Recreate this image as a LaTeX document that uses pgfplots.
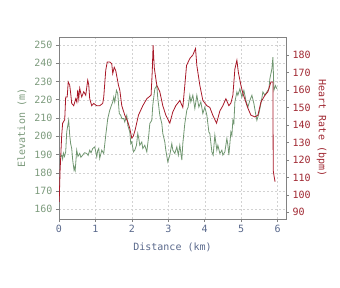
\documentclass[border=0pt]{standalone}
\usepackage{fontspec}
\setmonofont{DejaVu Sans Mono}
\usepackage{pgfplots}
\pgfplotsset{compat=1.18}
\definecolor{elev}{RGB}{112,150,112}
\definecolor{hr}{RGB}{168,24,40}
\definecolor{elevtxt}{RGB}{125,155,125}
\definecolor{hrtxt}{RGB}{160,40,50}
\definecolor{xtxt}{RGB}{90,105,140}
\definecolor{axcol}{RGB}{130,130,130}
\begin{document}
\begin{tikzpicture}
\path[use as bounding box] (0,0) rectangle (340bp,288bp);
\pgfplotsset{common/.style={scale only axis, width=227bp, height=182bp, at={(59bp,69bp)}, anchor=south west,
 xmin=0, xmax=6.23, clip mode=individual,
 axis line style={axcol, line width=0.6bp}, tick style={axcol, line width=0.6bp},
 tick align=outside, major tick length=3bp,
 /pgf/number format/assume math mode=true,
 tick label style={font=\ttfamily\fontsize{10bp}{12bp}\selectfont}}}
\begin{axis}[common, ymin=154.7, ymax=254.4, ytick={160,170,...,250}, xtick={0,...,6},
 xtick pos=left, ytick pos=left, grid=major, grid style={gray!35, dash pattern=on 2bp off 2bp, line width=0.5bp},
 yticklabel style={text=elevtxt}, xticklabel style={text=xtxt}]
\addplot[elev, line width=0.8bp] coordinates {
(0.038,188.7)(0.074,189.7)(0.10,187.5)(0.121,190.8)(0.15,189)(0.184,191.5)(0.212,202.4)(0.266,208.8)(0.294,200.6)(0.32,196)(0.349,193.3)(0.376,187)(0.412,181.5)(0.43,183)(0.445,181.5)(0.486,192.4)(0.52,189)(0.569,190.6)(0.60,188.5)(0.651,189.7)(0.70,191)(0.761,190.6)(0.80,189.5)(0.843,192.4)(0.88,191)(0.926,193.3)(0.981,194.2)(1.036,188.7)(1.06,192)(1.091,193.3)(1.118,187.9)(1.173,192.4)(1.228,190.6)(1.283,200.6)(1.338,209.7)(1.393,214.3)(1.44,217)(1.475,218.8)(1.503,221.5)(1.53,218.8)(1.577,225.2)(1.613,223.4)(1.654,212.5)(1.695,211.5)(1.723,209.7)(1.778,209.7)(1.805,207.9)(1.86,211.5)(1.888,206)(1.943,202.4)(1.97,196)(1.997,196.9)(2.044,191.5)(2.08,192.4)(2.126,195.1)(2.162,201.5)(2.19,198.8)(2.217,195.1)(2.272,196.9)(2.30,193.3)(2.354,195.1)(2.41,191.5)(2.464,200.6)(2.492,207)(2.547,208.8)(2.574,217)(2.629,226)(2.684,227.8)(2.712,220.6)(2.767,211.5)(2.822,207)(2.849,201.5)(2.904,196.9)(2.931,192.4)(2.986,186)(3.041,189.7)(3.096,196)(3.124,192.4)(3.179,190.6)(3.234,194.2)(3.275,189.7)(3.316,195.1)(3.371,187)(3.398,196)(3.453,207)(3.508,214.3)(3.544,216)(3.59,222.5)(3.618,218.8)(3.673,222.5)(3.728,215.2)(3.783,222.5)(3.838,216)(3.893,218.8)(3.948,212.5)(4.003,216)(4.058,211.5)(4.113,202.4)(4.14,201.5)(4.195,191.5)(4.231,189.7)(4.277,200.6)(4.332,192.4)(4.36,195.1)(4.415,190.6)(4.47,192.4)(4.497,189.7)(4.552,191.5)(4.607,198.8)(4.635,195.1)(4.662,189.7)(4.717,202.4)(4.745,200.6)(4.772,208.8)(4.799,207)(4.827,218.8)(4.882,224.3)(4.909,222.5)(4.964,226)(5.019,221.5)(5.074,225.2)(5.129,219.7)(5.184,216)(5.239,219.7)(5.294,222.5)(5.349,217.9)(5.404,211.5)(5.431,208.8)(5.486,212.5)(5.541,217.9)(5.596,224.3)(5.651,222.5)(5.706,224.3)(5.761,226)(5.788,231.6)(5.843,237)(5.871,243.4)(5.898,225.2)(5.939,227.8)(5.98,226)
};
\node[rotate=90, text=elevtxt, font=\ttfamily\fontsize{10bp}{12bp}\selectfont] at (axis description cs:-0.163,0.5) {Elevation (m)};
\node[text=xtxt, font=\ttfamily\fontsize{10bp}{12bp}\selectfont] at (axis description cs:0.5,-0.154) {Distance (km)};
\end{axis}
\begin{axis}[common, ymin=86.2, ymax=190.3, ytick={90,100,...,180}, xtick=\empty, ytick pos=right,
 yticklabel style={text=hrtxt}]
\addplot[hr, line width=0.8bp] coordinates {
(0.005,96)(0.03,114)(0.074,134)(0.10,141)(0.157,143)(0.184,156)(0.225,156)(0.253,164.6)(0.294,162.7)(0.321,158)(0.349,152.3)(0.404,151)(0.459,155)(0.49,153)(0.514,160)(0.541,155)(0.569,161)(0.60,158)(0.624,156)(0.679,159)(0.734,157)(0.788,165.6)(0.816,163)(0.843,155)(0.898,151)(0.953,152.3)(1.036,151)(1.118,151)(1.20,152.3)(1.228,156)(1.283,171.3)(1.324,176)(1.393,176)(1.448,175)(1.475,169.4)(1.516,173)(1.558,171)(1.632,162.7)(1.668,160)(1.723,151)(1.805,145.6)(1.888,141.8)(1.943,138)(1.997,132.5)(2.04,133.6)(2.088,137)(2.181,145.6)(2.30,151)(2.41,155)(2.527,157)(2.56,171)(2.582,185.6)(2.615,172.7)(2.684,162.7)(2.766,159)(2.849,151)(2.931,145.6)(3.041,141)(3.124,147.5)(3.206,151)(3.316,154)(3.398,150)(3.453,162.7)(3.50,174)(3.59,178)(3.673,180)(3.747,183.7)(3.783,174)(3.865,162.7)(3.948,154)(4.058,151)(4.14,150)(4.22,145.6)(4.324,141)(4.415,148)(4.497,151)(4.58,155)(4.662,151)(4.717,152.5)(4.772,157)(4.827,172)(4.882,177)(4.923,170)(4.992,162.7)(5.047,158)(5.129,153)(5.184,149.6)(5.266,145.6)(5.376,144.6)(5.459,145.6)(5.541,153)(5.651,157)(5.734,159)(5.816,164.6)(5.871,164.6)(5.879,114)(5.90,111)(5.93,107.5)
};
\node[rotate=-90, text=hrtxt, font=\ttfamily\fontsize{10bp}{12bp}\selectfont] at (axis description cs:1.157,0.5) {Heart Rate (bpm)};
\end{axis}
\end{tikzpicture}
\end{document}
